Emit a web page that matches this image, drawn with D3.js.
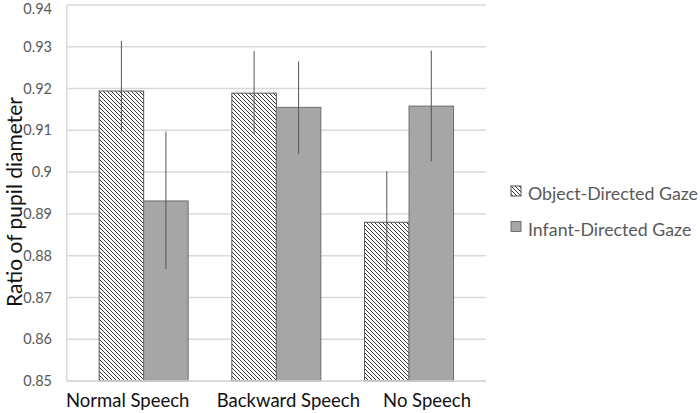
<!DOCTYPE html>
<head>
    <style>
        * { padding: 0; margin: 0; }
        body { background: #fff; }
        svg { display: block; }
    </style>
    <script src="https://cdn.jsdelivr.net/npm/d3@7/dist/d3.min.js"></script>
</head>

<body>
    <script>

        /////////////////////////////////////////////////////
        // DATA
        /////////////////////////////////////////////////////

        const conditions = ["Normal Speech", "Backward Speech", "No Speech"]
        const seriesNames = ["Object-Directed Gaze", "Infant-Directed Gaze"]

        //Bar heights per condition
        const objectGaze = [0.9194, 0.9189, 0.8880]
        const infantGaze = [0.8931, 0.9155, 0.9158]

        //Error bar ends (low / high)
        const objectLow = [0.9097, 0.9091, 0.8762]
        const objectHigh = [0.9314, 0.9290, 0.9002]
        const infantLow = [0.8768, 0.9044, 0.9026]
        const infantHigh = [0.9097, 0.9265, 0.9291]

        const yTicks = [0.85, 0.86, 0.87, 0.88, 0.89, 0.9, 0.91, 0.92, 0.93, 0.94]
        const yTickLabels = ["0.85", "0.86", "0.87", "0.88", "0.89", "0.9", "0.91", "0.92", "0.93", "0.94"]

        /////////////////////////////////////////////////////
        // SETUP
        /////////////////////////////////////////////////////

        const width = 700
        const height = 413
        const font = "Lato, 'Open Sans', sans-serif"

        const plot = { left: 66.7, right: 486, top: 5, bottom: 381 }
        const barW = 44.5
        //Category labels sit a little off the group centers in the original
        const labelShift = [-16, 12, 18]

        const x = d3.scalePoint()
            .domain(conditions)
            .range([plot.left, plot.right])
            .padding(0.58)

        const y = d3.scaleLinear()
            .domain([0.85, 0.94])
            .range([plot.bottom, plot.top])

        const svg = d3.select("body").append("svg")
            .attr("width", width)
            .attr("height", height)

        //Hatch pattern (downward diagonal)
        const defs = svg.append("defs")
        const pat = defs.append("pattern")
            .attr("id", "hatch")
            .attr("patternUnits", "userSpaceOnUse")
            .attr("width", 4)
            .attr("height", 4)
        pat.append("rect").attr("width", 4).attr("height", 4).attr("fill", "#fff")
        pat.append("path")
            .attr("d", "M-1,-1 L5,5 M-1,3 L1,5 M3,-1 L5,1")
            .attr("stroke", "#3a3a3a")
            .attr("stroke-width", 1)

        /////////////////////////////////////////////////////
        // GRID + AXES
        /////////////////////////////////////////////////////

        svg.append("g")
            .selectAll("line")
            .data(yTicks)
            .join("line")
            .attr("x1", plot.left)
            .attr("x2", plot.right)
            .attr("y1", d => y(d))
            .attr("y2", d => y(d))
            .attr("stroke", "#d9d9d9")
            .attr("stroke-width", 1.5)

        svg.append("line")
            .attr("x1", plot.left).attr("x2", plot.left)
            .attr("y1", plot.top).attr("y2", plot.bottom)
            .attr("stroke", "#d9d9d9")
            .attr("stroke-width", 1.5)

        //Top label is nudged down so it stays inside the frame
        svg.append("g")
            .selectAll("text")
            .data(yTicks)
            .join("text")
            .attr("x", 52)
            .attr("y", d => Math.max(y(d), 8.5))
            .attr("dy", "0.35em")
            .attr("text-anchor", "end")
            .attr("font-family", font)
            .attr("font-size", 14.5)
            .attr("fill", "#595959")
            .text((d, i) => yTickLabels[i])

        svg.append("text")
            .attr("transform", `translate(22,202) rotate(-90)`)
            .attr("text-anchor", "middle")
            .attr("font-family", font)
            .attr("font-size", 21)
            .attr("fill", "#111")
            .text("Ratio of pupil diameter")

        svg.append("g")
            .selectAll("text")
            .data(conditions)
            .join("text")
            .attr("x", (d, i) => x(d) + labelShift[i])
            .attr("y", 407)
            .attr("text-anchor", "middle")
            .attr("font-family", font)
            .attr("font-size", 18.5)
            .attr("fill", "#111")
            .text(d => d)

        /////////////////////////////////////////////////////
        // BARS
        /////////////////////////////////////////////////////

        const series = [
            { name: seriesNames[0], vals: objectGaze, lo: objectLow, hi: objectHigh, fill: "url(#hatch)", stroke: "#555", off: -1 },
            { name: seriesNames[1], vals: infantGaze, lo: infantLow, hi: infantHigh, fill: "#a6a6a6", stroke: "#6e6e6e", off: 0 }
        ]

        series.forEach(s => {
            const g = svg.append("g")
            g.selectAll("rect")
                .data(conditions)
                .join("rect")
                .attr("x", (d, i) => x(d) + s.off * barW)
                .attr("y", (d, i) => y(s.vals[i]))
                .attr("width", barW)
                .attr("height", (d, i) => y(0.85) - y(s.vals[i]))
                .attr("fill", s.fill)
                .attr("stroke", s.stroke)
                .attr("stroke-width", 1)

            g.selectAll("line")
                .data(conditions)
                .join("line")
                .attr("x1", d => x(d) + s.off * barW + barW / 2)
                .attr("x2", d => x(d) + s.off * barW + barW / 2)
                .attr("y1", (d, i) => y(s.hi[i]))
                .attr("y2", (d, i) => y(s.lo[i]))
                .attr("stroke", "#555")
                .attr("stroke-width", 1)
        })

        //Bottom axis line on top of bars
        svg.append("line")
            .attr("x1", plot.left).attr("x2", plot.right)
            .attr("y1", plot.bottom).attr("y2", plot.bottom)
            .attr("stroke", "#d9d9d9")
            .attr("stroke-width", 1.5)

        /////////////////////////////////////////////////////
        // LEGEND
        /////////////////////////////////////////////////////

        const legend = svg.append("g")
            .selectAll("g")
            .data(series)
            .join("g")
            .attr("transform", (d, i) => `translate(511,${186 + i * 35.5})`)

        legend.append("rect")
            .attr("width", 10)
            .attr("height", 10)
            .attr("fill", d => d.fill)
            .attr("stroke", d => d.stroke)

        legend.append("text")
            .attr("x", 17)
            .attr("y", 14)
            .attr("font-family", font)
            .attr("font-size", 17.8)
            .attr("fill", "#595959")
            .text(d => d.name)

    </script>
</body>
